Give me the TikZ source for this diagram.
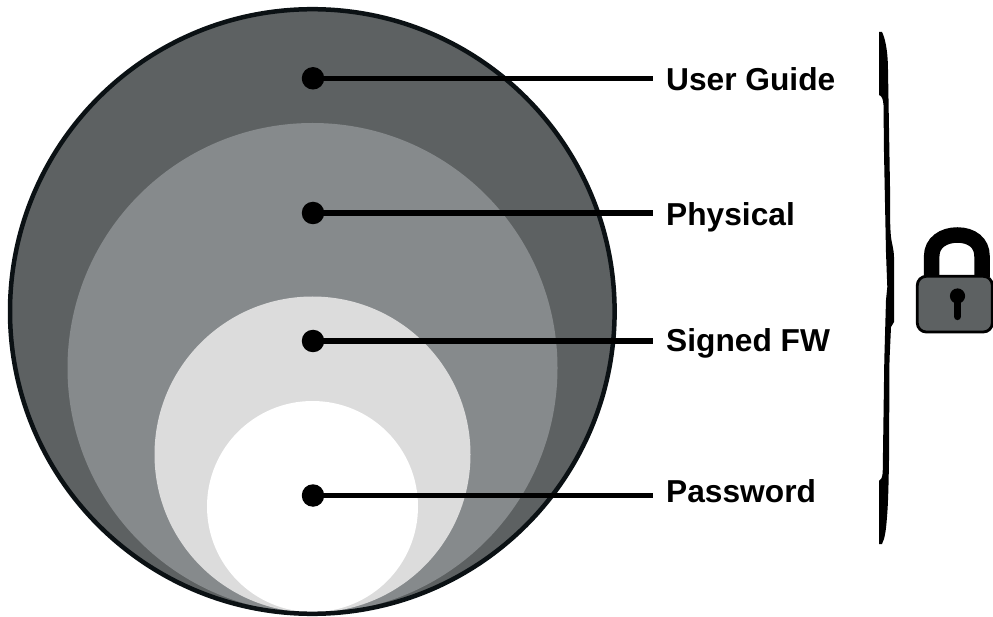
\documentclass[tikz,border=0pt]{standalone}
\usepackage{fontspec}
\setmainfont{Liberation Sans}
\definecolor{dark}{HTML}{5D6162}
\definecolor{mid}{HTML}{868A8C}
\definecolor{light}{HTML}{DCDCDC}
\definecolor{rim}{HTML}{0B1114}
\tikzset{
  dotmark/.style={circle,fill=black,inner sep=0pt,minimum size=22.5pt},
  leader/.style={line width=5.3pt,black},
  lab/.style={anchor=base west,inner sep=0pt,font=\fontsize{31.7pt}{34pt}\selectfont\bfseries}
}
\begin{document}
\begin{tikzpicture}[x=1pt,y=-1pt]
\useasboundingbox (0,0) rectangle (993,617);
\clip (0,0) rectangle (993,617);
% nested circles
\fill[dark] (312.3,311.5) circle[radius=302];
\fill[mid] (312.5,368) circle[radius=245];
\fill[light] (312.5,454.5) circle[radius=158];
\fill[white] (312.5,506.5) circle[radius=105.5];
\draw[rim,line width=4.5pt] (312.3,311.5) circle[radius=302.3];
% dots
\node[dotmark] (d1) at (313,78.3) {};
\node[dotmark] (d2) at (313,213) {};
\node[dotmark] (d3) at (313,341) {};
\node[dotmark] (d4) at (313,495.5) {};
\coordinate (e1) at (653,78.3);
\coordinate (e2) at (653,213);
\coordinate (e3) at (653,341);
\coordinate (e4) at (653,495.5);
\draw[leader] (d1.center) -- (e1);
\draw[leader] (d2.center) -- (e2);
\draw[leader] (d3.center) -- (e3);
\draw[leader] (d4.center) -- (e4);
\node[lab] (l1) at (666,90.7) {User Guide};
\node[lab] (l2) at (666,225.2) {Physical};
\node[lab] (l3) at (666,351.8) {Signed FW};
\node[lab] (l4) at (666,502.3) {Password};
% brace
\fill[black] (879,32) -- (882,32) .. controls (886,40) and (888,55) .. (888,70)
  -- (890,187) .. controls (890,215) and (890,228) .. (891,237)
  .. controls (892,245) and (894,250) .. (894,257)
  -- (894,322) .. controls (893,325) and (892,325) .. (891,327)
  -- (889.5,360) -- (889,460) .. controls (888.5,490) and (888,505) .. (887,517)
  .. controls (886,530) and (885,538) .. (882,544) -- (879,544) -- (879,481)
  .. controls (881,480) and (882,478) .. (882.7,473)
  -- (884.3,360) -- (886,300) -- (887.3,287) -- (886,253) -- (884,153)
  -- (883.5,105) .. controls (883,99) and (882,96) .. (879,95) -- cycle;
% lock
\draw[black,line width=15.5pt] (931.7,277) -- (931.7,256) .. controls (931.7,243) and (943,235) .. (957.3,235)
  .. controls (972,235) and (982,243) .. (982,256) -- (982,277);
\draw[black,line width=2.8pt,fill=dark,rounded corners=9pt] (917.3,276.3) rectangle (992.3,332);
\fill[black] (957.5,296) circle[radius=7.6];
\draw[black,line width=7.3pt,line cap=round] (957.5,298) -- (957.5,316.5);
\end{tikzpicture}
\end{document}
